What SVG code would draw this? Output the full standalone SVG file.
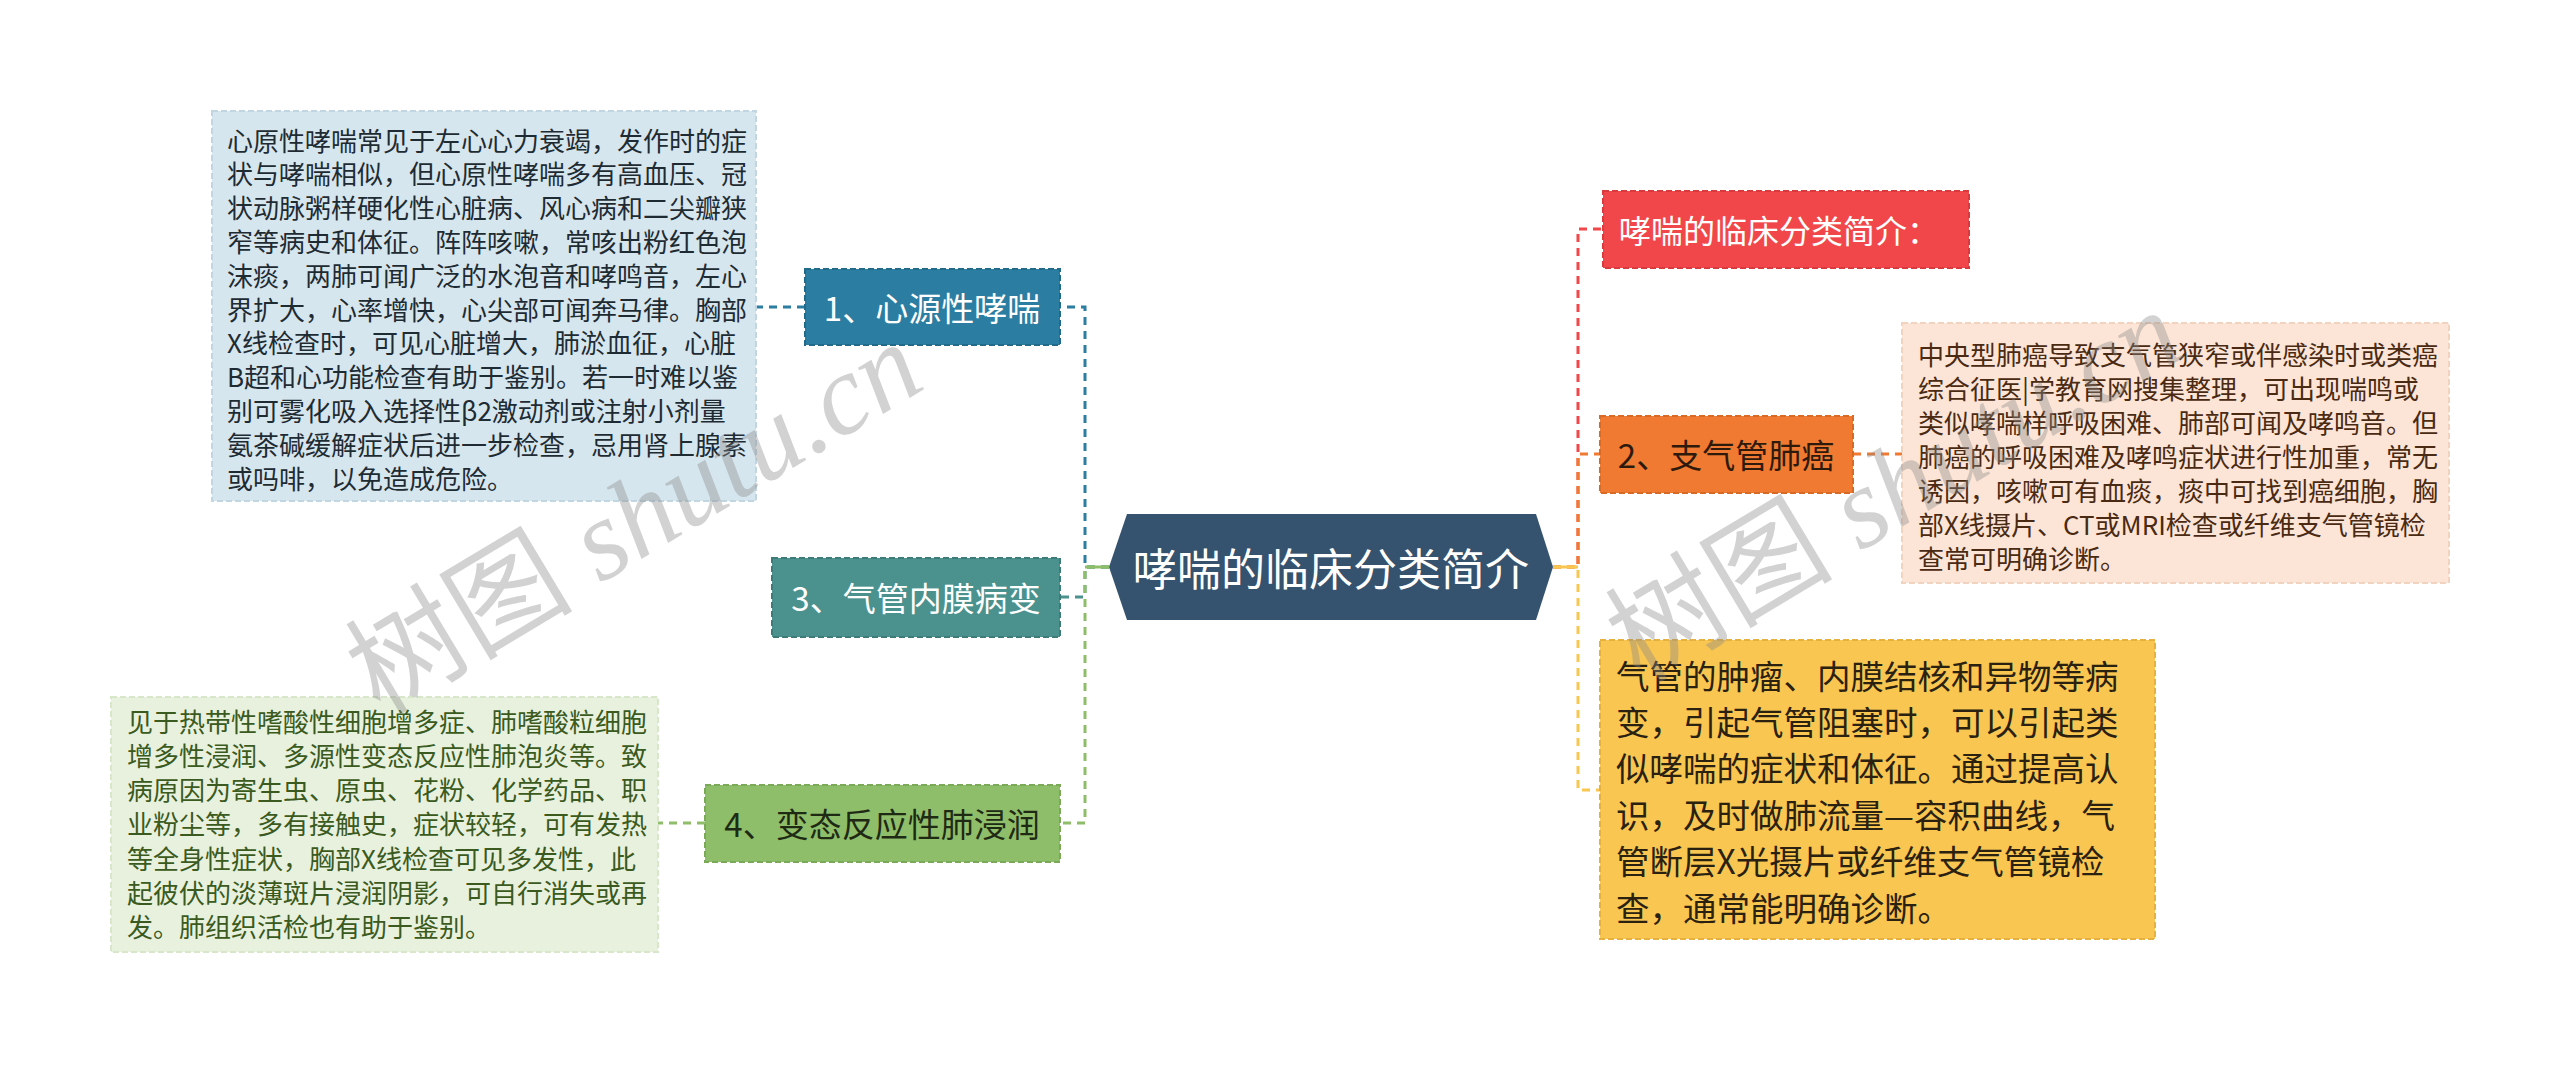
<svg xmlns="http://www.w3.org/2000/svg" width="2560" height="1065" viewBox="0 0 2560 1065">
<style>
text{font-family:"Noto Sans CJK SC","Noto Sans",sans-serif;dominant-baseline:central}
.conn{fill:none;stroke-width:3;stroke-dasharray:8 6}
.box{stroke-width:2;stroke-dasharray:6 3}
.node{font-size:33px;text-anchor:middle}
.det{font-size:26px}
.wm{font-family:"Liberation Serif","Noto Sans CJK SC",serif;font-size:114px;fill:#8a8a8a;fill-opacity:0.38;dominant-baseline:auto}
.wm tspan{font-style:italic}
</style>
<rect width="2560" height="1065" fill="#ffffff"/>
<g id="connectors">
<path class="conn" stroke="#2b7ea1" d="M1109,567 H1085 V307 H1060"/>
<path class="conn" stroke="#4b918e" d="M1109,567 H1085 V597 H1060"/>
<path class="conn" stroke="#8fbe6b" d="M1109,567 H1085 V823 H1060"/>
<path fill="none" stroke="#8fbe6b" stroke-width="3" d="M1109,567 H1085"/>
<path class="conn" stroke="#2b7ea1" d="M805,307 H756"/>
<path class="conn" stroke="#8fbe6b" d="M705,823 H658"/>
<path class="conn" stroke="#f1474a" d="M1553,567 H1578 V229 H1603"/>
<path class="conn" stroke="#f07a31" d="M1553,567 H1578 V454 H1600"/>
<path class="conn" stroke="#f8c651" d="M1553,567 H1578 V790 H1600"/>
<path fill="none" stroke="#f8c651" stroke-width="3" d="M1553,567 H1578"/>
<path class="conn" stroke="#f07a31" d="M1853,454 H1902"/>
</g>
<g id="center">
<polygon points="1109,567 1127,514 1536,514 1553,567 1536,620 1127,620" fill="#35526e"/>
<text x="1331" y="567" font-size="44" fill="#ffffff" text-anchor="middle">哮喘的临床分类简介</text>
</g>
<g id="node1">
<rect class="box" x="805" y="269" width="255" height="76" fill="#2b7ea1" stroke="#226a89"/>
<text class="node" x="932" y="307" fill="#ffffff">1、心源性哮喘</text>
</g>
<g id="detail1">
<rect class="box" x="212" y="111" width="544" height="390" fill="#d6e6ee" stroke="#c2d6e1"/>
<g class="det" fill="#1e2b33">
<text x="227" y="139">心原性哮喘常见于左心心力衰竭，发作时的症</text>
<text x="227" y="172.8">状与哮喘相似，但心原性哮喘多有高血压、冠</text>
<text x="227" y="206.6">状动脉粥样硬化性心脏病、风心病和二尖瓣狭</text>
<text x="227" y="240.4">窄等病史和体征。阵阵咳嗽，常咳出粉红色泡</text>
<text x="227" y="274.2">沫痰，两肺可闻广泛的水泡音和哮鸣音，左心</text>
<text x="227" y="308">界扩大，心率增快，心尖部可闻奔马律。胸部</text>
<text x="227" y="341.8">X线检查时，可见心脏增大，肺淤血征，心脏</text>
<text x="227" y="375.6">B超和心功能检查有助于鉴别。若一时难以鉴</text>
<text x="227" y="409.4">别可雾化吸入选择性β2激动剂或注射小剂量</text>
<text x="227" y="443.2">氨茶碱缓解症状后进一步检查，忌用肾上腺素</text>
<text x="227" y="477">或吗啡，以免造成危险。</text>
</g>
</g>
<g id="node3">
<rect class="box" x="772" y="558" width="288" height="79" fill="#4b918e" stroke="#3e7c79"/>
<text class="node" x="916" y="597" fill="#ffffff">3、气管内膜病变</text>
</g>
<g id="node4">
<rect class="box" x="705" y="785" width="355" height="77" fill="#8fbe6b" stroke="#7aaa57"/>
<text class="node" x="882" y="823" font-size="37" fill="#1f2a14">4、变态反应性肺浸润</text>
</g>
<g id="detail4">
<rect class="box" x="111" y="697" width="547" height="255" fill="#e8f1de" stroke="#d8e6ca"/>
<g class="det" fill="#3a5a20">
<text x="127" y="720">见于热带性嗜酸性细胞增多症、肺嗜酸粒细胞</text>
<text x="127" y="754.3">增多性浸润、多源性变态反应性肺泡炎等。致</text>
<text x="127" y="788.6">病原因为寄生虫、原虫、花粉、化学药品、职</text>
<text x="127" y="822.9">业粉尘等，多有接触史，症状较轻，可有发热</text>
<text x="127" y="857.2">等全身性症状，胸部X线检查可见多发性，此</text>
<text x="127" y="891.5">起彼伏的淡薄斑片浸润阴影，可自行消失或再</text>
<text x="127" y="925.8">发。肺组织活检也有助于鉴别。</text>
</g>
</g>
<g id="nodeRed">
<rect class="box" x="1603" y="191" width="366" height="77" fill="#f1474a" stroke="#d83a3d"/>
<text x="1619" y="229" font-size="32" fill="#ffffff">哮喘的临床分类简介：</text>
</g>
<g id="node2">
<rect class="box" x="1600" y="416" width="253" height="77" fill="#f07a31" stroke="#d96a25"/>
<text class="node" x="1726" y="454" fill="#2e1a0c">2、支气管肺癌</text>
</g>
<g id="detail2">
<rect class="box" x="1902" y="323" width="547" height="260" fill="#fce5d6" stroke="#f2d3bf"/>
<g class="det" fill="#4a2a12">
<text x="1918" y="353">中央型肺癌导致支气管狭窄或伴感染时或类癌</text>
<text x="1918" y="387">综合征医|学教育网搜集整理，可出现喘鸣或</text>
<text x="1918" y="421">类似哮喘样呼吸困难、肺部可闻及哮鸣音。但</text>
<text x="1918" y="455">肺癌的呼吸困难及哮鸣症状进行性加重，常无</text>
<text x="1918" y="489">诱因，咳嗽可有血痰，痰中可找到癌细胞，胸</text>
<text x="1918" y="523">部X线摄片、CT或MRI检查或纤维支气管镜检</text>
<text x="1918" y="557">查常可明确诊断。</text>
</g>
</g>
<g id="nodeYellow">
<rect class="box" x="1600" y="640" width="555" height="299" fill="#f8c651" stroke="#e6b13e"/>
<g font-size="33.5" fill="#2a2110">
<text x="1616" y="674">气管的肿瘤、内膜结核和异物等病</text>
<text x="1616" y="720.4">变，引起气管阻塞时，可以引起类</text>
<text x="1616" y="766.8">似哮喘的症状和体征。通过提高认</text>
<text x="1616" y="813.2">识，及时做肺流量—容积曲线，气</text>
<text x="1616" y="859.6">管断层X光摄片或纤维支气管镜检</text>
<text x="1616" y="906">查，通常能明确诊断。</text>
</g>
</g>
<g id="watermarks">
<text class="wm" transform="translate(380,716) rotate(-31)">树图 <tspan>shutu.cn</tspan></text>
<text class="wm" transform="translate(1640,684) rotate(-31)">树图 <tspan>shutu.cn</tspan></text>
</g>
</svg>
